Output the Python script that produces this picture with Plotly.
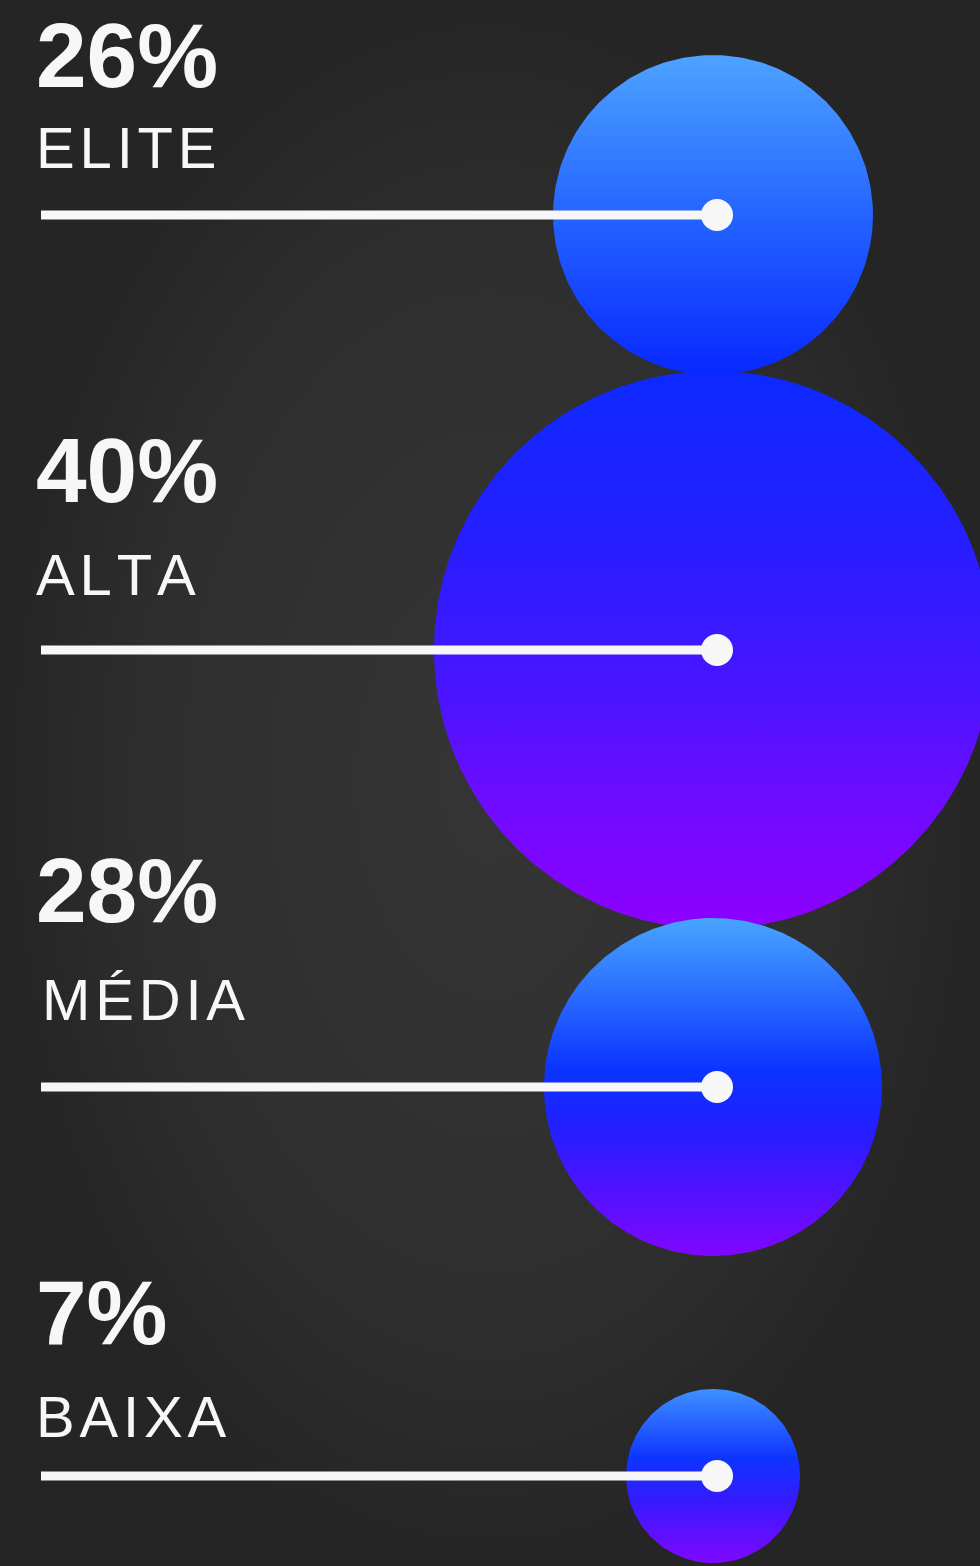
import numpy as np
import plotly.graph_objects as go

# ---- data ----
categories = ["ELITE", "ALTA", "MÉDIA", "BAIXA"]
values = [26, 40, 28, 7]

# ---- layout / style constants (pixels) ----
W, H = 980, 1566
row_y = [215, 650, 1087, 1476]          # vertical centre of each row (line + bubble)
bubble_cx = 713
bubble_radius_px = [160, 279, 169, 87]  # as drawn in the original design
line_x0, dot_x = 41, 717
pct_y = [55, 470, 890, 1312]            # cap-centre of the percentage text
lab_y = [147, 574, 999, 1416]           # cap-centre of the category text
lab_x = [36, 36, 42, 36]

bubble_scales = [
    [[0, "rgb(78,163,255)"], [0.5, "rgb(36,100,255)"], [1, "rgb(8,40,255)"]],
    [[0, "rgb(12,42,255)"], [0.3, "rgb(38,30,255)"], [0.55, "rgb(70,22,255)"],
     [0.8, "rgb(115,10,255)"], [1, "rgb(142,0,255)"]],
    [[0, "rgb(72,165,255)"], [0.45, "rgb(10,52,255)"], [0.62, "rgb(35,30,255)"],
     [1, "rgb(128,6,255)"]],
    [[0, "rgb(62,145,255)"], [0.4, "rgb(14,52,255)"], [0.65, "rgb(55,25,255)"],
     [1, "rgb(128,8,255)"]],
]

TEXT = "#f7f7f7"
HAIR = "\u200a"

fig = go.Figure()

# background vignette
fig.add_trace(go.Scatter(
    x=[0, W, W, 0, 0], y=[0, 0, H, H, 0], mode="lines", fill="toself",
    line=dict(width=0), hoverinfo="skip", showlegend=False,
    fillgradient=dict(type="radial",
                      colorscale=[[0, "#353535"], [0.7, "#2e2e2e"], [1, "#252525"]]),
))

theta = np.linspace(0, 2 * np.pi, 361)
for i, cat in enumerate(categories):
    r = bubble_radius_px[i]
    cy = row_y[i]
    fig.add_trace(go.Scatter(
        x=bubble_cx + r * np.cos(theta), y=cy + r * np.sin(theta),
        mode="lines", fill="toself", line=dict(width=0),
        hoverinfo="skip", showlegend=False,
        fillgradient=dict(type="vertical", colorscale=bubble_scales[i],
                          start=cy - r, stop=cy + r),
    ))

for i, cat in enumerate(categories):
    fig.add_trace(go.Scatter(
        x=[line_x0, dot_x], y=[row_y[i], row_y[i]], mode="lines",
        line=dict(color=TEXT, width=9), hoverinfo="skip", showlegend=False))
    fig.add_trace(go.Scatter(
        x=[dot_x], y=[row_y[i]], mode="markers",
        marker=dict(color=TEXT, size=32, line=dict(width=0)),
        hoverinfo="skip", showlegend=False))

annotations = []
for i, cat in enumerate(categories):
    annotations.append(dict(
        x=36, y=pct_y[i], xref="x", yref="y", xanchor="left", yanchor="middle",
        text=f"{values[i]}%", showarrow=False, borderpad=0, borderwidth=0,
        font=dict(family="Liberation Sans, Arial, sans-serif", size=91,
                  color=TEXT, weight="bold")))
    annotations.append(dict(
        x=lab_x[i], y=lab_y[i], xref="x", yref="y", xanchor="left", yanchor="middle",
        text=HAIR.join(cat), showarrow=False, borderpad=0, borderwidth=0,
        font=dict(family="Liberation Sans, Arial, sans-serif", size=58, color=TEXT)))

fig.update_layout(
    width=W, height=H, margin=dict(l=0, r=0, t=0, b=0),
    paper_bgcolor="#252525", plot_bgcolor="#252525",
    xaxis=dict(range=[0, W], visible=False, fixedrange=True),
    yaxis=dict(range=[H, 0], visible=False, fixedrange=True),
    annotations=annotations, showlegend=False, hovermode=False,
)

fig.write_html("out.html", config={"displayModeBar": False},
               post_script="document.body.style.margin='0';")
